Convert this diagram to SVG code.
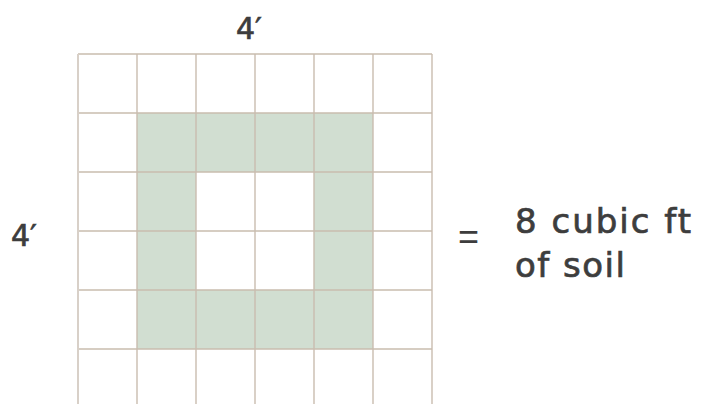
<svg xmlns="http://www.w3.org/2000/svg" width="707" height="404" viewBox="0 0 707 404">
<style>
.t{font-family:"DejaVu Sans","Noto Sans",sans-serif;fill:#3d3d3d;stroke:#3d3d3d;stroke-width:0.7}
.cell{fill:#d1ded1}
.g{stroke:#c9bdaf;stroke-width:1.4;fill:none}
</style>
<rect width="707" height="404" fill="#ffffff"/>
<g id="shaded">
<rect class="cell" x="137" y="113" width="236" height="59"/>
<rect class="cell" x="137" y="290" width="236" height="59"/>
<rect class="cell" x="137" y="172" width="59" height="118"/>
<rect class="cell" x="314" y="172" width="59" height="118"/>
</g>
<g id="grid">
<path class="g" d="M78 54H432M78 113H432M78 172H432M78 231H432M78 290H432M78 349H432"/>
<path class="g" d="M137 54V404M196 54V404M255 54V404M314 54V404M373 54V404M432 54V404"/>
<path d="M78 54V404" stroke="#d8d0c8" stroke-width="2" fill="none"/>
</g>
<g id="labels">
<text class="t" x="236" y="39" font-size="30">4′</text>
<text class="t" x="11" y="246" font-size="30">4′</text>
<text x="458" y="249" font-size="36" font-family="Liberation Sans,sans-serif" fill="#3d3d3d">=</text>
<text class="t" x="515" y="233" font-size="34" textLength="176">8 cubic ft</text>
<text class="t" x="515" y="277" font-size="34" textLength="110">of soil</text>
</g>
</svg>
